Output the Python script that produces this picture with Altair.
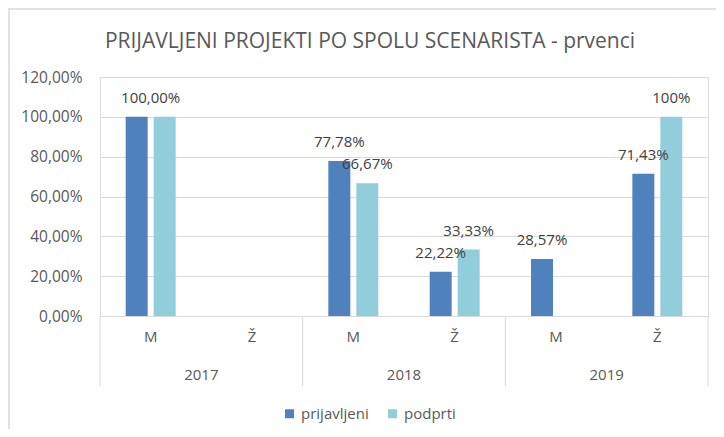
import altair as alt
import pandas as pd

years = ["2017", "2018", "2019"]
genders = ["M", "Ž"]
series = ["prijavljeni", "podprti"]

# values per (year, gender) in order: 2017 M, 2017 Ž, 2018 M, 2018 Ž, 2019 M, 2019 Ž
prijavljeni = [100.0, 0.0, 77.78, 22.22, 28.57, 71.43]
podprti = [100.0, 0.0, 66.67, 33.33, 0.0, 100.0]
prijavljeni_labels = ["", "", "77,78%", "22,22%", "28,57%", "71,43%"]
podprti_labels = ["", "", "66,67%", "33,33%", "", "100%"]
shared_labels = ["100,00%", "", "", "", "", ""]
y_ticks = [0, 20, 40, 60, 80, 100, 120]

title_text = "PRIJAVLJENI PROJEKTI PO SPOLU SCENARISTA - prvenci"

keys = [f"{y}|{g}" for y in years for g in genders]

rows = []
for i, k in enumerate(keys):
    y, g = k.split("|")
    rows.append(dict(key=k, year=y, gender=g, series=series[0], value=prijavljeni[i], label=prijavljeni_labels[i]))
    rows.append(dict(key=k, year=y, gender=g, series=series[1], value=podprti[i], label=podprti_labels[i]))
df = pd.DataFrame(rows)

shared_df = pd.DataFrame({
    "key": keys,
    "value": [max(a, b) for a, b in zip(prijavljeni, podprti)],
    "label": shared_labels,
})
shared_df = shared_df[shared_df["label"] != ""]

years_df = pd.DataFrame({"year": years, "key": [f"{y}|M" for y in years]})
last_df = pd.DataFrame({"key": [keys[-1]]})
one_df = pd.DataFrame({"title": [title_text]})

W, H = 608, 239
half = W / len(keys) / 2

GRID = "#D9D9D9"
TXT = "#595959"
LBL = "#404040"
FONT = "Open Sans"

xenc = alt.X(
    "key:N",
    sort=keys,
    scale=alt.Scale(domain=keys, paddingInner=0, paddingOuter=0),
    axis=alt.Axis(
        title=None, labelAngle=0, domain=False, ticks=False, grid=False,
        labelExpr="split(datum.label, '|')[1]", labelFontSize=15,
        labelColor=TXT, labelPadding=13, labelFont=FONT,
    ),
)
yenc = alt.Y(
    "value:Q",
    scale=alt.Scale(domain=[0, 120], nice=False),
    axis=alt.Axis(
        title=None, values=y_ticks, tickCount=len(y_ticks), domain=False, ticks=False,
        gridColor=GRID, gridWidth=1, labelFontSize=15.5, labelColor=TXT, labelPadding=18,
        labelFont=FONT, labelOverlap=False,
        labelExpr="replace(format(datum.value / 100, '.2%'), '.', ',')",
    ),
)
xoff = alt.XOffset("series:N", sort=series,
                   scale=alt.Scale(domain=series, paddingInner=0.214, paddingOuter=0.917))

base = alt.Chart(df)

bars = base.mark_bar().encode(
    x=xenc, y=yenc, xOffset=xoff,
    color=alt.Color(
        "series:N", sort=series,
        scale=alt.Scale(domain=series, range=["#4F81BD", "#92CDDC"]),
        legend=alt.Legend(
            orient="none", legendX=182, legendY=329, direction="horizontal", title=None,
            symbolType="square", symbolSize=81, symbolStrokeWidth=0, labelFontSize=15,
            labelColor=TXT, labelFont=FONT, columnPadding=16, labelOffset=4,
        ),
    ),
)

labels = base.transform_filter("datum.label != ''").mark_text(
    dy=-14, baseline="alphabetic", fontSize=15, color=LBL, font=FONT
).encode(x=xenc, y=yenc, xOffset=xoff, text="label:N")

shared = alt.Chart(shared_df).mark_text(
    dy=-14, baseline="alphabetic", fontSize=15, color=LBL, font=FONT
).encode(x=xenc, y=yenc, text="label:N")

year_text = alt.Chart(years_df).mark_text(
    xOffset=half, baseline="middle", fontSize=15, color=TXT, font=FONT
).encode(x=xenc, y=alt.value(H + 59), text="year:N")

seps = alt.Chart(years_df).mark_rule(xOffset=-half, color=GRID, strokeWidth=1).encode(
    x=xenc, y=alt.value(H), y2=alt.value(H + 70)
)
sep_last = alt.Chart(last_df).mark_rule(xOffset=half, color=GRID, strokeWidth=1).encode(
    x=xenc, y=alt.value(H), y2=alt.value(H + 70)
)

title = alt.Chart(one_df).mark_text(
    fontSize=21, color=TXT, font=FONT, baseline="middle", align="center"
).encode(x=alt.value(270), y=alt.value(-35), text="title:N")

border_left = alt.Chart(one_df).mark_rule(color=GRID, strokeWidth=1.5).encode(
    x=alt.value(-91), y=alt.value(-69), y2=alt.value(H + 113)
)
border_top = alt.Chart(one_df).mark_rule(color=GRID, strokeWidth=1.5).encode(
    x=alt.value(-91), x2=alt.value(W + 8), y=alt.value(-68)
)

chart = alt.layer(bars, labels, shared, year_text, seps, sep_last, title, border_left, border_top).properties(
    width=W, height=H,
    padding={"left": 92, "top": 69, "right": 8, "bottom": 113},
    autosize=alt.AutoSizeParams(type="none"),
).configure_view(stroke=None).configure(background="white")

chart.save("out.html", embed_options={"renderer": "svg", "actions": False})
